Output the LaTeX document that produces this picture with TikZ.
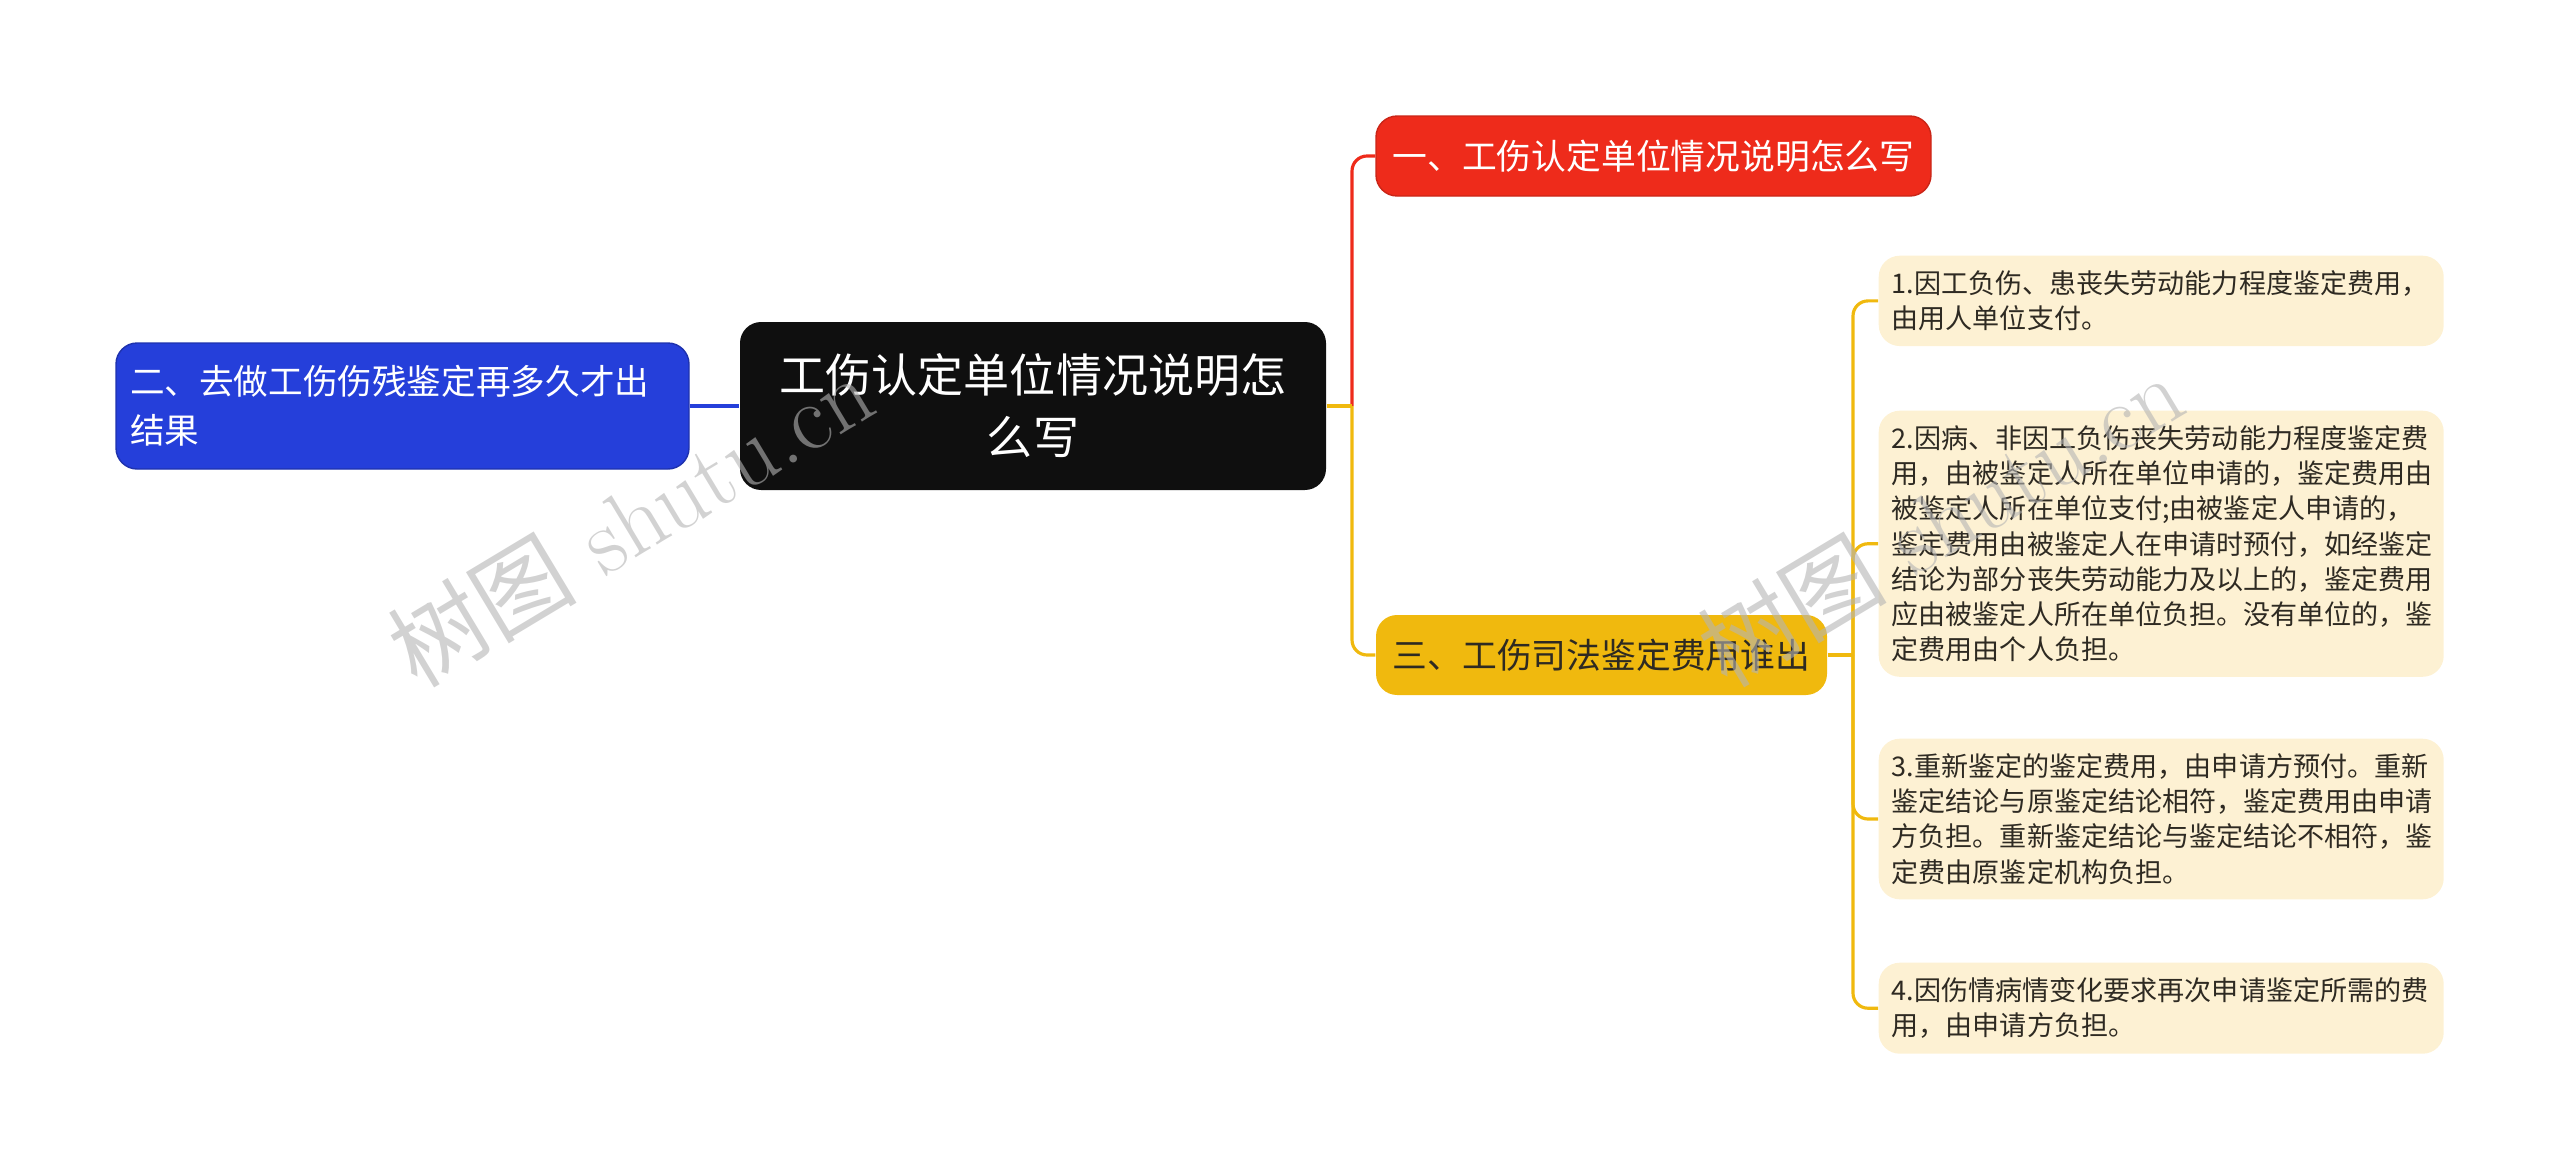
\documentclass[tikz,border=0pt]{standalone}
\usepackage{fontspec}
\usepackage{tikz}
\usetikzlibrary{positioning}
\newfontfamily\cjk{Noto Sans CJK SC}
\usepackage{xcolor}
\definecolor{rootblack}{HTML}{0F0F0F}
\definecolor{branchred}{HTML}{EE2B1B}
\definecolor{branchblue}{HTML}{253FDA}
\definecolor{branchyellow}{HTML}{F0B90E}
\definecolor{leafcream}{HTML}{FDF1D3}
\definecolor{leaftext}{HTML}{2E2A22}
\definecolor{wmgray}{HTML}{B4B4B4}

\tikzset{
  topic/.style={rounded corners=6pt, align=center, text=white, inner sep=0pt},
  leaf/.style={rounded corners=6pt, fill=leafcream, text=leaftext, align=left,
    text width=5.39cm, inner xsep=0.13cm, inner ysep=0.15cm, anchor=north west,
    font=\cjk\fontsize{7.7}{10}\selectfont},
  link/.style={line width=0.9pt},
  elbow/.style={line width=0.9pt, rounded corners=0.15cm},
  watermark/.style={text=wmgray, text opacity=0.6, rotate=31,
    font=\fontsize{27}{30}\selectfont}
}

\begin{document}
\begin{tikzpicture}
\useasboundingbox (0,0) rectangle (25.6,-11.72);

% root and topics
\node[topic, fill=rootblack, minimum width=5.86cm, minimum height=1.68cm,
  font=\cjk\fontsize{13.1}{17.6}\selectfont] (root) at (10.33,-4.06)
  {工伤认定单位情况说明怎\\么写};
\node[topic, fill=branchblue, draw=branchblue!80!black, align=left, text width=5.45cm,
  minimum width=5.73cm, minimum height=1.26cm,
  font=\cjk\fontsize{9.85}{14}\selectfont] (two) at (4.025,-4.06)
  {二、去做工伤伤残鉴定再多久才出\\结果};
\node[topic, fill=branchred, draw=branchred!85!black, minimum width=5.55cm, minimum height=0.8cm,
  font=\cjk\fontsize{9.9}{12}\selectfont] (one) at (16.535,-1.56)
  {一、工伤认定单位情况说明怎么写};
\node[topic, fill=branchyellow, text=leaftext, minimum width=4.51cm, minimum height=0.8cm,
  font=\cjk\fontsize{9.9}{12}\selectfont] (three) at (16.015,-6.55)
  {三、工伤司法鉴定费用谁出};

% leaves
\node[leaf] (l1) at (18.78,-2.55)
  {1.因工负伤、患丧失劳动能力程度鉴定费用，\\由用人单位支付。};
\node[leaf] (l2) at (18.78,-4.10)
  {2.因病、非因工负伤丧失劳动能力程度鉴定费\\用，由被鉴定人所在单位申请的，鉴定费用由\\被鉴定人所在单位支付;由被鉴定人申请的，\\鉴定费用由被鉴定人在申请时预付，如经鉴定\\结论为部分丧失劳动能力及以上的，鉴定费用\\应由被鉴定人所在单位负担。没有单位的，鉴\\定费用由个人负担。};
\node[leaf] (l3) at (18.78,-7.38)
  {3.重新鉴定的鉴定费用，由申请方预付。重新\\鉴定结论与原鉴定结论相符，鉴定费用由申请\\方负担。重新鉴定结论与鉴定结论不相符，鉴\\定费由原鉴定机构负担。};
\node[leaf] (l4) at (18.78,-9.62)
  {4.因伤情病情变化要求再次申请鉴定所需的费\\用，由申请方负担。};

% connectors
\coordinate (rootjoin) at (13.52,-4.06);
\coordinate (leafjoin) at (18.53,-6.55);
\draw[link, branchblue] (two.east) -- (root.west);
\draw[elbow, branchred] (rootjoin) |- (one.west);
\draw[elbow, branchyellow] (rootjoin) |- (three.west);
\draw[link, branchyellow] (root.east) -- (rootjoin);
\draw[link, branchyellow] (three.east) -- (leafjoin);
\foreach \leafname in {l1,l2,l3,l4}
  \draw[elbow, branchyellow] (leafjoin) |- (\leafname.west);

% watermarks
\node[watermark] (wm1) at (6.3,-5.2) {{\cjk 树图} shutu.cn};
\node[watermark] (wm2) at (19.4,-5.2) {{\cjk 树图} shutu.cn};
\end{tikzpicture}
\end{document}
